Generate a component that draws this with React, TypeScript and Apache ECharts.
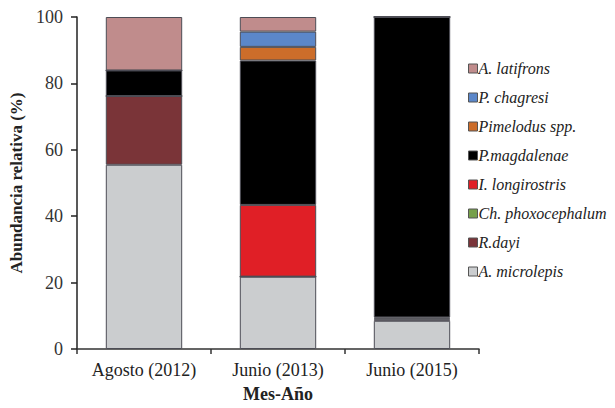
import React, { useEffect, useRef } from "react";
import * as echarts from "echarts";

const categories = ["Agosto (2012)", "Junio (2013)", "Junio (2015)"];
const seriesNames = [
  "A. microlepis",
  "R.dayi",
  "Ch. phoxocephalum",
  "I. longirostris",
  "P.magdalenae",
  "Pimelodus spp.",
  "P. chagresi",
  "A. latifrons",
];
const microlepis = [55.5, 21.8, 8.5];
const dayi = [20.7, 0, 0.4];
const phoxocephalum = [0, 0, 0.3];
const longirostris = [0, 21.6, 0.3];
const magdalenae = [7.7, 43.5, 90.5];
const pimelodus = [0, 4.1, 0];
const chagresi = [0, 4.6, 0];
const latifrons = [16.1, 4.4, 0];
const seriesValues = [microlepis, dayi, phoxocephalum, longirostris, magdalenae, pimelodus, chagresi, latifrons];
const seriesColors = ["#cbcdcf", "#7a3438", "#77a04a", "#e01f26", "#000000", "#cc6d2a", "#5b87c9", "#c08c8c"];
const yTicks = [0, 20, 40, 60, 80, 100];

const FONT = "'Liberation Serif', 'Times New Roman', serif";

export default function App() {
  const ref = useRef<HTMLDivElement>(null);
  useEffect(() => {
    if (!ref.current) return;
    const chart = echarts.init(ref.current, undefined, { renderer: "svg" });
    chart.setOption({
      animation: false,
      backgroundColor: "#ffffff",
      textStyle: { fontFamily: FONT },
      grid: { left: 77, right: 136, top: 17, bottom: 56, containLabel: false },
      legend: {
        orient: "vertical",
        left: 463,
        top: 55,
        itemWidth: 9,
        itemHeight: 9,
        itemGap: 12,
        icon: "rect",
        data: [...seriesNames].reverse(),
        textStyle: {
          fontFamily: FONT,
          fontStyle: "italic",
          fontSize: 16,
          lineHeight: 17,
          color: "#222",
          padding: [0, 0, 0, -4],
        },
        itemStyle: { borderColor: "#555", borderWidth: 1 },
      },
      xAxis: {
        type: "category",
        data: categories,
        name: "Mes-Año",
        nameLocation: "middle",
        nameGap: 36,
        nameTextStyle: { fontFamily: FONT, fontWeight: "bold", fontSize: 18, color: "#222" },
        axisLine: { lineStyle: { color: "#333", width: 1.5 } },
        axisTick: { show: true, length: 5, lineStyle: { color: "#333", width: 1.5 } },
        axisLabel: { interval: 0, fontFamily: FONT, fontSize: 18, color: "#222", margin: 12 },
      },
      yAxis: {
        type: "value",
        min: 0,
        max: 100,
        interval: 20,
        name: "Abundancia relativa (%)",
        nameLocation: "middle",
        nameGap: 45,
        nameTextStyle: { fontFamily: FONT, fontWeight: "bold", fontSize: 17, color: "#222" },
        axisLine: { show: true, lineStyle: { color: "#222", width: 1.5 } },
        axisTick: { show: true, length: 6, lineStyle: { color: "#222", width: 1.5 } },
        splitLine: { show: false },
        axisLabel: {
          fontFamily: FONT,
          fontSize: 18,
          color: "#333",
          margin: 14,
          formatter: (v: number) => (yTicks.includes(v) ? String(v) : ""),
        },
      },
      series: seriesNames.map((name, i) => ({
        name,
        type: "bar",
        stack: "total",
        barWidth: "57%",
        data: seriesValues[i],
        itemStyle: { color: seriesColors[i], borderColor: "#4d4d55", borderWidth: 1 },
      })),
    });
    return () => chart.dispose();
  }, []);
  return <div ref={ref} style={{ position: "fixed", left: 0, top: 0, width: 615, height: 408 }} />;
}
